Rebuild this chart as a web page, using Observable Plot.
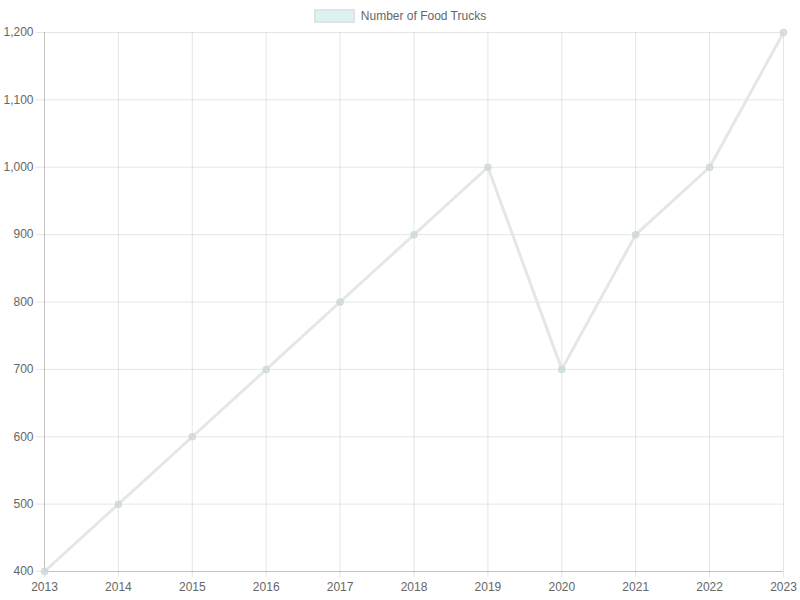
<!DOCTYPE html>
<html><head><meta charset="utf-8">
<script src="https://cdn.jsdelivr.net/npm/d3@7"></script>
<script src="https://cdn.jsdelivr.net/npm/@observablehq/plot@0.6"></script>
<style>
body{margin:0;background:#fff;font-family:"Liberation Sans",Arial,sans-serif;}
#legend{height:24px;display:flex;justify-content:center;align-items:center;padding-top:7px;box-sizing:border-box;font-size:12px;color:#666;}
#legend .box{width:37px;height:10px;background:rgba(75,192,192,0.2);border:2px solid #e2e2e2;margin-right:6px;}
</style></head>
<body>
<div id="legend"><span class="box"></span><span>Number of Food Trucks</span></div>
<div id="chart"></div>
<script>
const years = [2013,2014,2015,2016,2017,2018,2019,2020,2021,2022,2023];
const trucks = [400,500,600,700,800,900,1000,700,900,1000,1200];
const yTicks = [400,500,600,700,800,900,1000,1100,1200];
const data = years.map((y,i)=>({year:y, value:trucks[i]}));
const chart = Plot.plot({
  width:800, height:576,
  marginTop:8, marginBottom:29, marginLeft:44, marginRight:17,
  style:{fontFamily:"Liberation Sans, Arial, sans-serif", fontSize:"12px"},
  x:{domain:[2013,2023], label:null},
  y:{domain:[400,1200], label:null},
  marks:[
    Plot.gridX(years,{stroke:"#000", strokeOpacity:0.1}),
    Plot.gridY(yTicks,{stroke:"#000", strokeOpacity:0.1}),
    Plot.axisX(years,{tickSize:6, tickPadding:5, stroke:"#000", strokeOpacity:0.1, fill:"#666", tickFormat:d=>String(d), fontSize:12, label:null}),
    Plot.axisY(yTicks,{tickSize:8, tickPadding:3, stroke:"#000", strokeOpacity:0.1, fill:"#666", tickFormat:d3.format(","), fontSize:12, label:null}),
    Plot.ruleY([400],{stroke:"#000", strokeOpacity:0.15}),
    Plot.ruleX([2013],{stroke:"#000", strokeOpacity:0.15}),
    Plot.line(data,{x:"year", y:"value", stroke:"#e6e6e6", strokeWidth:3}),
    Plot.dot(data,{x:"year", y:"value", r:3, fill:"rgba(75,192,192,0.2)", stroke:"#d8d8d8", strokeWidth:1.5})
  ]
});
document.getElementById("chart").append(chart);
</script>
</body></html>
